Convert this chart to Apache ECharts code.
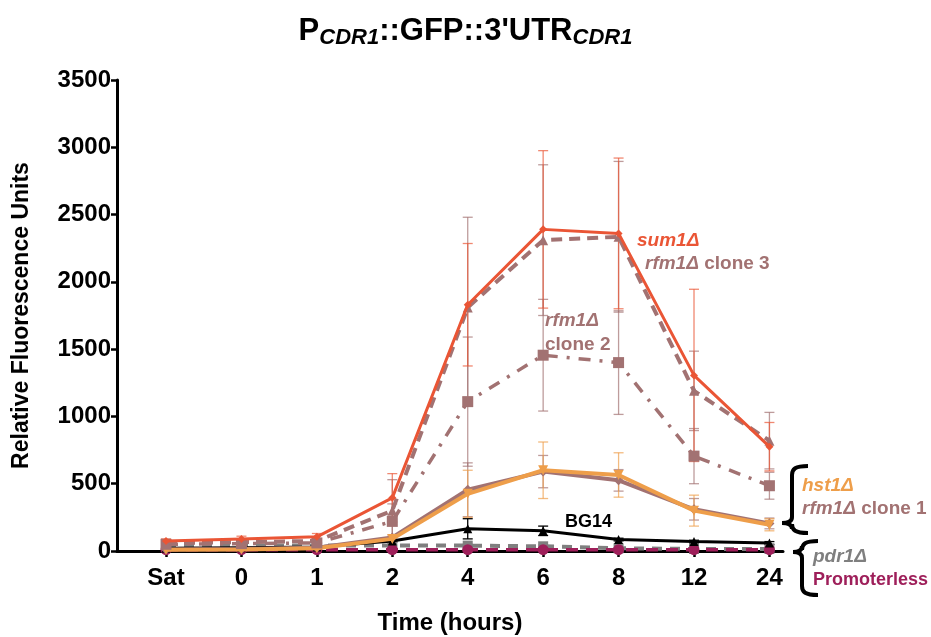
<!DOCTYPE html>
<html>
<head>
<meta charset="utf-8">
<script src="https://cdn.jsdelivr.net/npm/echarts@6/dist/echarts.min.js"></script>
<style>
  html, body { margin: 0; padding: 0; background: #fff; }
  #chart { width: 931px; height: 637px; }
</style>
</head>
<body>
<div id="chart"></div>
<script>
// time points (x categories)
const timeLabels = ['Sat', '0', '1', '2', '4', '6', '8', '12', '24'];
const yTicks = [0, 500, 1000, 1500, 2000, 2500, 3000, 3500];

// mean fluorescence per strain
const sum1 = [75, 90, 105, 395, 1830, 2390, 2360, 1305, 775];
const sum1Err = [15, 20, 25, 180, 455, 585, 560, 640, 180];
const rfm1c3 = [60, 65, 75, 300, 1810, 2310, 2335, 1190, 820];
const rfm1c3Err = [10, 10, 15, 230, 670, 560, 560, 295, 210];
const rfm1c2 = [50, 55, 60, 220, 1110, 1455, 1400, 705, 485];
const rfm1c2Err = [10, 10, 10, 130, 480, 415, 385, 205, 100];
const hst1 = [10, 12, 20, 90, 425, 600, 565, 300, 195];
const hst1Err = [5, 5, 5, 20, 175, 210, 165, 115, 45];
const rfm1c1 = [12, 14, 25, 100, 455, 590, 525, 310, 205];
const rfm1c1Err = [5, 5, 5, 20, 200, 120, 80, 80, 40];
const bg14 = [20, 25, 30, 75, 165, 150, 85, 70, 60];
const bg14Err = [5, 5, 5, 10, 75, 35, 10, 10, 10];
const pdr1 = [40, 40, 40, 40, 40, 35, 20, 15, 15];
const pdr1Err = [5, 5, 5, 5, 10, 10, 5, 5, 5];
const promoterless = [10, 10, 10, 10, 10, 10, 10, 10, 10];
const promoterlessErr = [3, 3, 3, 3, 3, 3, 3, 3, 3];

const RED = '#EA5535';
const MAUVE = '#A27272';
const ORANGE = '#EE9E4A';
const GRAY = '#7F7F7F';
const MAGENTA = '#9E1F5A';

const chart = echarts.init(document.getElementById('chart'));

function pts(arr) {
    return arr.map((v, i) => [i, v]);
}

function errData(arr, err) {
    return arr.map((v, i) => [i, v - err[i], v + err[i]]);
}

// draws vertical error bar with caps
function errBar(color, opacity) {
    return function (params, api) {
        const x = api.value(0);
        const lo = api.coord([x, Math.max(0, api.value(1))]);
        const hi = api.coord([x, api.value(2)]);
        const w = 5;
        const st = { stroke: color, lineWidth: 1.3, opacity: opacity };
        return {
            type: 'group',
            children: [
                { type: 'line', shape: { x1: hi[0], y1: hi[1], x2: lo[0], y2: lo[1] }, style: st },
                { type: 'line', shape: { x1: hi[0] - w, y1: hi[1], x2: hi[0] + w, y2: hi[1] }, style: st },
                { type: 'line', shape: { x1: lo[0] - w, y1: lo[1], x2: lo[0] + w, y2: lo[1] }, style: st }
            ]
        };
    };
}

const strains = [
    { name: 'pdr1', d: pdr1, e: pdr1Err, color: GRAY, width: 4, type: [10, 8], sym: 'rect', size: 10 },
    { name: 'promoterless', d: promoterless, e: promoterlessErr, color: MAGENTA, width: 3.5, type: [12, 8], sym: 'circle', size: 11 },
    { name: 'BG14', d: bg14, e: bg14Err, color: '#000', width: 3, type: 'solid', sym: 'triangle', size: 9 },
    { name: 'rfm1 c1', d: rfm1c1, e: rfm1c1Err, color: MAUVE, width: 4, type: 'solid', sym: 'diamond', size: 10 },
    { name: 'hst1', d: hst1, e: hst1Err, color: ORANGE, width: 4, type: 'solid', sym: 'triangle', size: 10, rot: 180 },
    { name: 'rfm1 c2', d: rfm1c2, e: rfm1c2Err, color: MAUVE, width: 3.5, type: [12, 9, 3, 9], sym: 'rect', size: 11 },
    { name: 'rfm1 c3', d: rfm1c3, e: rfm1c3Err, color: MAUVE, width: 4, type: [11, 7], sym: 'triangle', size: 10 },
    { name: 'sum1', d: sum1, e: sum1Err, color: RED, width: 3, type: 'solid', sym: 'diamond', size: 8 }
];

const series = [];
strains.forEach((s) => {
    series.push({
        type: 'custom',
        renderItem: errBar(s.color, s.color === '#000' ? 1 : 0.7),
        data: errData(s.d, s.e),
        encode: { x: 0, y: [1, 2] },
        z: 1,
        silent: true
    });
});
strains.forEach((s, i) => {
    series.push({
        name: s.name,
        type: 'line',
        data: pts(s.d),
        symbol: s.sym,
        symbolSize: s.size,
        symbolRotate: s.rot || 0,
        lineStyle: { color: s.color, width: s.width, type: s.type },
        itemStyle: { color: s.color },
        z: 3 + i
    });
});

const FONT = 'Liberation Sans, Arial, sans-serif';

function label(text, x, y, rich) {
    return {
        type: 'text',
        x: x,
        y: y,
        style: { text: text, rich: rich, font: 'bold 19px ' + FONT }
    };
}

function tstyle(color, italic, size) {
    return { fontFamily: FONT, fontWeight: 'bold', fontStyle: italic ? 'italic' : 'normal', fontSize: size || 19, fill: color };
}

const richM = { i: tstyle(MAUVE, true), n: tstyle(MAUVE, false) };

// curly brace built from bezier pieces
function brace(armX, colX, tipX, top, tip, bottom) {
    const st = { fill: 'none', stroke: '#000', lineWidth: 4 };
    const bz = (x1, y1, cx1, cy1, cx2, cy2, x2, y2) => ({
        type: 'bezierCurve',
        shape: { x1: x1, y1: y1, cpx1: cx1, cpy1: cy1, cpx2: cx2, cpy2: cy2, x2: x2, y2: y2 },
        style: st
    });
    return {
        type: 'group',
        children: [
            bz(armX, top, colX + 3, top, colX, top + 3, colX, top + 9),
            { type: 'line', shape: { x1: colX, y1: top + 9, x2: colX, y2: tip - 6 }, style: st },
            bz(colX, tip - 6, colX, tip - 2, colX - 3, tip, tipX, tip),
            bz(tipX, tip, colX - 3, tip, colX, tip + 2, colX, tip + 6),
            { type: 'line', shape: { x1: colX, y1: tip + 6, x2: colX, y2: bottom - 9 }, style: st },
            bz(colX, bottom - 9, colX, bottom - 3, colX + 3, bottom, armX, bottom)
        ]
    };
}

chart.setOption({
    animation: false,
    title: {
        text: "{b|P}{s|CDR1}{b|::GFP::3'UTR}{s|CDR1}",
        left: 'center',
        top: 11,
        textStyle: {
            rich: {
                b: { fontFamily: FONT, fontWeight: 'bold', fontSize: 31, lineHeight: 30, verticalAlign: 'top', color: '#000' },
                s: { fontFamily: FONT, fontWeight: 'bold', fontStyle: 'italic', fontSize: 22, lineHeight: 22, padding: [11, 0, 0, 0], verticalAlign: 'top', color: '#000' }
            }
        }
    },
    grid: { left: 117, right: 148, top: 80, bottom: 86, outerBoundsMode: 'none' },
    xAxis: {
        type: 'value',
        min: -0.65,
        max: 8.18,
        name: 'Time (hours)',
        nameLocation: 'middle',
        nameGap: 60,
        nameTextStyle: { fontFamily: FONT, fontWeight: 'bold', fontSize: 24, color: '#000' },
        splitLine: { show: false },
        axisLine: { onZero: false, lineStyle: { color: '#000', width: 3 } },
        axisTick: { show: true, customValues: [0, 1, 2, 3, 4, 5, 6, 7, 8], length: 6, lineStyle: { color: '#000', width: 2.5 } },
        axisLabel: {
            customValues: [0, 1, 2, 3, 4, 5, 6, 7, 8],
            formatter: (v) => timeLabels[Math.round(v)],
            fontFamily: FONT, fontWeight: 'bold', fontSize: 24, color: '#000', margin: 15
        }
    },
    yAxis: {
        type: 'value',
        min: yTicks[0],
        max: yTicks[yTicks.length - 1],
        interval: 500,
        name: 'Relative Fluorescence Units',
        nameLocation: 'middle',
        nameGap: 84,
        nameTextStyle: { fontFamily: FONT, fontWeight: 'bold', fontSize: 23, color: '#000' },
        splitLine: { show: false },
        axisLine: { show: true, onZero: false, lineStyle: { color: '#000', width: 3 } },
        axisTick: { show: true, length: 6, lineStyle: { color: '#000', width: 2.5 } },
        axisLabel: { formatter: (v) => String(v), fontFamily: FONT, fontWeight: 'bold', fontSize: 24, color: '#000', margin: 6 }
    },
    graphic: [
        label('{r|sum1Δ}', 637, 231, { r: tstyle(RED, true) }),
        label('{i|rfm1Δ}{n| clone 3}', 645, 254, richM),
        label('{i|rfm1Δ}', 545, 311, richM),
        label('{n|clone 2}', 545, 335, richM),
        label('{k|BG14}', 565, 513, { k: tstyle('#000', false, 18) }),
        label('{h|hst1Δ}', 802, 476, { h: tstyle(ORANGE, true) }),
        label('{i|rfm1Δ}{n| clone 1}', 802, 499, richM),
        label('{g|pdr1Δ}', 813, 547, { g: tstyle(GRAY, true) }),
        label('{p|Promoterless}', 813, 571, { p: tstyle(MAGENTA, false, 18) }),
        brace(808, 792, 782, 466, 523, 533),
        brace(818, 802, 793, 541, 552, 595)
    ],
    series: series
});
</script>
</body>
</html>
